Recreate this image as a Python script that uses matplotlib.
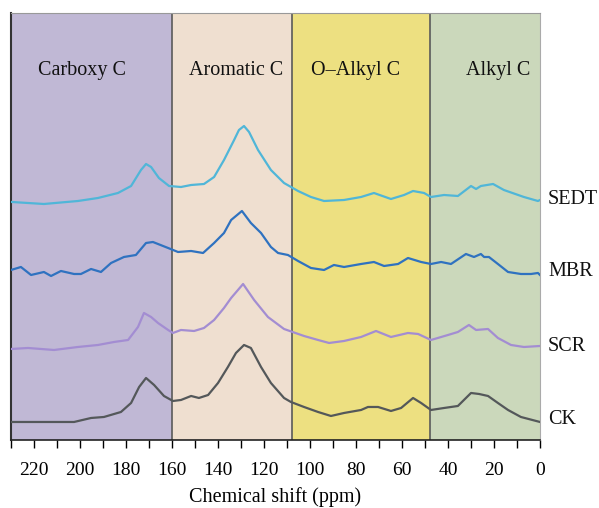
import matplotlib
matplotlib.use("Agg")
import matplotlib.pyplot as plt
from matplotlib.ticker import MultipleLocator

# ---- data (chemical shift in ppm, intensity in arbitrary offset units) ----
sedt_x = [229.6, 215.7, 200.9, 192.2, 183.5, 177.8, 173.5, 171.3, 169.1, 165.7, 161.3, 156.1,
          151.7, 146.1, 141.7, 137.4, 133.0, 130.9, 128.7, 126.5, 122.6, 117.0, 111.3, 105.2,
          99.6, 93.9, 85.2, 77.8, 72.2, 64.8, 59.1, 55.2, 50.4, 47.4, 41.7, 35.7, 30.0, 27.8,
          25.7, 20.4, 15.7, 7.0, 0.9, 0.0]
sedt_y = [238, 236, 239, 242, 247, 254, 270, 276, 273, 262, 254, 253,
          255, 256, 263, 280, 300, 310, 314, 308, 290, 270, 257, 249,
          243, 239, 240, 243, 247, 241, 245, 249, 247, 243, 245, 244, 254, 251,
          254, 256, 250, 243, 239, 240]

mbr_x = [230.0, 225.7, 221.3, 215.7, 212.6, 208.3, 202.6, 199.6, 195.2, 190.9, 186.5, 180.9,
         175.7, 171.3, 168.3, 161.7, 157.4, 151.7, 146.5, 141.7, 137.4, 134.3, 129.6, 125.7,
         121.3, 117.0, 113.9, 109.6, 105.2, 99.6, 93.9, 89.6, 85.2, 77.8, 72.2, 67.8, 61.7,
         57.4, 51.7, 47.4, 43.0, 38.7, 32.2, 28.7, 25.7, 24.3, 22.2, 18.3, 13.9, 8.3, 3.9,
         0.9, 0.0]
mbr_y = [170, 173, 165, 168, 164, 169, 166, 166, 171, 168, 177, 183,
         185, 197, 198, 192, 188, 189, 187, 197, 207, 220, 229, 217,
         207, 193, 187, 185, 179, 172, 170, 175, 173, 176, 178, 174, 176,
         182, 178, 176, 178, 176, 186, 183, 186, 183, 183, 176, 168, 166, 166,
         167, 165]

scr_x = [230.0, 222.6, 211.3, 200.9, 192.2, 185.2, 179.1, 174.8, 172.2, 169.1, 166.1, 161.7,
         159.6, 156.1, 150.4, 146.1, 141.7, 137.4, 134.3, 129.1, 124.3, 118.3, 111.3, 102.6,
         96.5, 91.7, 85.2, 77.8, 71.3, 64.8, 57.4, 53.0, 47.4, 40.0, 35.7, 30.9, 27.8, 22.6,
         18.3, 12.6, 7.0, 0.0]
scr_y = [91, 92, 90, 93, 95, 98, 100, 113, 127, 123, 117, 110,
         107, 110, 109, 112, 120, 132, 142, 156, 140, 123, 111, 104,
         100, 97, 99, 103, 109, 103, 107, 106, 100, 105, 108, 115, 110, 111,
         102, 95, 93, 94]

ck_x = [230.0, 221.3, 211.3, 202.6, 195.2, 189.6, 182.2, 177.8, 174.3, 171.3, 167.8, 163.5,
        159.6, 156.1, 151.7, 148.3, 144.3, 140.0, 135.7, 132.2, 128.7, 125.7, 121.3, 117.0,
        111.3, 108.3, 102.6, 96.5, 90.9, 85.2, 77.8, 74.8, 70.4, 64.8, 60.4, 55.2, 51.7,
        47.4, 41.7, 35.7, 30.0, 26.5, 22.6, 18.3, 13.9, 8.3, 0.0]
ck_y = [18, 18, 18, 18, 22, 23, 28, 37, 53, 62, 55, 44,
        39, 40, 44, 42, 45, 57, 73, 87, 95, 92, 73, 57,
        42, 38, 33, 28, 24, 27, 30, 33, 33, 29, 32, 42, 37,
        30, 32, 34, 47, 46, 44, 37, 30, 23, 18]

series_names = ["SEDT", "MBR", "SCR", "CK"]
label_y = [240, 168, 93, 20]

regions = ["Carboxy C", "Aromatic C", "O\u2013Alkyl C", "Alkyl C"]
region_bounds = [(230, 160), (160, 108), (108, 48), (48, 0)]
region_label_x = [199, 132, 80, 18]

xticks = [220, 200, 180, 160, 140, 120, 100, 80, 60, 40, 20, 0]

# ---- styling ----
region_colors = ["#c0b8d5", "#efdfd0", "#ede081", "#cbd8bb"]
line_colors = {"SEDT": "#50b6d8", "MBR": "#2f72c0", "SCR": "#a38dd2", "CK": "#54585a"}
serif = ["Liberation Serif", "DejaVu Serif"]

fig = plt.figure(figsize=(5.99, 5.08), dpi=100)
ax = fig.add_axes([0.0184, 0.1339, 0.8831, 0.8405])

for (a, b), c in zip(region_bounds, region_colors):
    ax.axvspan(b, a, color=c, zorder=0, lw=0)
for bnd in [160, 108, 48]:
    ax.axvline(bnd, color="#5a5a5a", lw=1.2, zorder=1)

data = {"SEDT": (sedt_x, sedt_y), "MBR": (mbr_x, mbr_y),
        "SCR": (scr_x, scr_y), "CK": (ck_x, ck_y)}
for name in series_names:
    xs, ys = data[name]
    ax.plot(xs, ys, color=line_colors[name], lw=1.6, zorder=3)

ax.set_xlim(230, 0)
ax.set_ylim(0, 427)
ax.set_yticks([])
ax.set_xticks(xticks)
ax.xaxis.set_minor_locator(MultipleLocator(10))
ax.tick_params(axis="x", which="major", direction="out", length=6, width=1,
               labelsize=14, pad=10)
ax.tick_params(axis="x", which="minor", direction="out", length=6, width=1)
for lbl in ax.get_xticklabels():
    lbl.set_fontfamily(serif)

ax.spines["left"].set_color("#333333")
ax.spines["left"].set_linewidth(1.5)
ax.spines["bottom"].set_color("#222222")
ax.spines["bottom"].set_linewidth(1.2)
ax.spines["top"].set_color("#999999")
ax.spines["right"].set_color("#aaaaaa")

for txt, xp in zip(regions, region_label_x):
    ax.text(xp, 370, txt, ha="center", va="center", fontsize=14.5,
            family=serif, color="#111111", zorder=4)

for name, yv in zip(series_names, label_y):
    ax.text(-3.5, yv, name, ha="left", va="center", fontsize=14.5,
            family=serif, color="#111111", clip_on=False)

ax.set_xlabel("Chemical shift (ppm)", fontsize=14.5, family=serif, labelpad=6)

fig.savefig("out.png", dpi=100)
